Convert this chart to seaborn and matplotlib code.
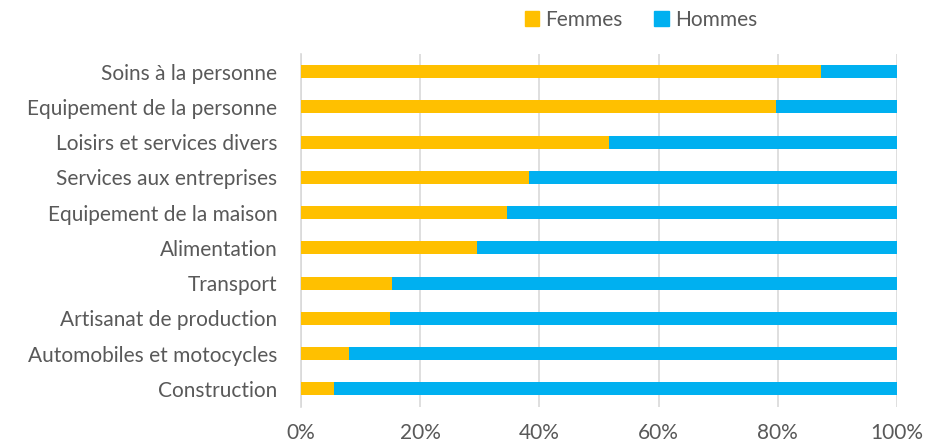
import matplotlib
matplotlib.use("Agg")
import matplotlib.pyplot as plt
import seaborn as sns
import pandas as pd
import numpy as np
from matplotlib.ticker import PercentFormatter
from matplotlib.patches import Patch

categories = ["Soins à la personne", "Equipement de la personne", "Loisirs et services divers",
              "Services aux entreprises", "Equipement de la maison", "Alimentation", "Transport",
              "Artisanat de production", "Automobiles et motocycles", "Construction"]
femmes = [87.2, 79.7, 51.7, 38.3, 34.5, 29.5, 15.2, 14.9, 8.1, 5.5]
hommes = [12.8, 20.3, 48.3, 61.7, 65.5, 70.5, 84.8, 85.1, 91.9, 94.5]

df = pd.DataFrame({"cat": categories, "Femmes": femmes, "Hommes": hommes})
df["total"] = df["Femmes"] + df["Hommes"]

sns.set_style("white")
plt.rcParams["font.family"] = ["Lato", "DejaVu Sans"]

fig = plt.figure(figsize=(9.25, 4.45), dpi=100)
ax = fig.add_axes([301 / 925, 1 - 406.5 / 445, 596 / 925, 352.5 / 445])

sns.barplot(data=df, y="cat", x="total", color="#00B0F0", width=0.37, ax=ax,
            saturation=1, linewidth=0, zorder=2)
sns.barplot(data=df, y="cat", x="Femmes", color="#FFC000", width=0.37, ax=ax,
            saturation=1, linewidth=0, zorder=3)

ax.set_xlim(0, 100)
ax.set_xticks([0, 20, 40, 60, 80, 100])
ax.xaxis.set_major_formatter(PercentFormatter(decimals=0))
ax.set_xlabel("")
ax.set_ylabel("")
ax.grid(axis="x", color="#D9D9D9", linewidth=1.2, zorder=0)
ax.set_axisbelow(True)
for s in ["top", "right", "bottom"]:
    ax.spines[s].set_visible(False)
ax.spines["left"].set_color("#D9D9D9")
ax.spines["left"].set_linewidth(1.2)
ax.tick_params(axis="y", length=0, pad=17, labelsize=15, labelcolor="#595959")
ax.tick_params(axis="x", length=0, pad=12, labelsize=15, labelcolor="#595959")

handles = [Patch(color="#FFC000", label="Femmes"), Patch(color="#00B0F0", label="Hommes")]
fig.legend(handles=handles, loc="center", bbox_to_anchor=(641 / 925, 1 - 20 / 445), ncol=2,
           frameon=False, fontsize=15, handlelength=0.7, handleheight=0.7,
           handletextpad=0.3, columnspacing=1.5, labelcolor="#595959")

fig.savefig("out.png", dpi=100)
